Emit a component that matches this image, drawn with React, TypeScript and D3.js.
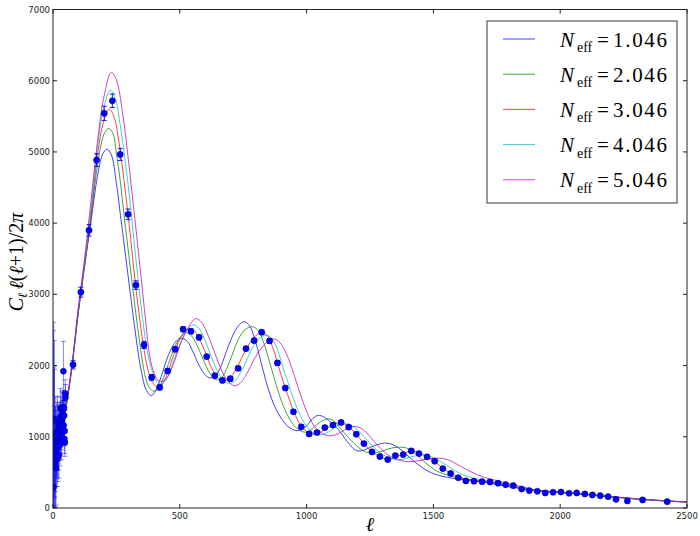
import React from 'react';
import * as d3 from 'd3';

const W = 700, H = 536;
const X0 = 53, X1 = 687, Y0 = 508, Y1 = 9.5;

const xTicks = [0, 500, 1000, 1500, 2000, 2500];
const yTicks = [0, 1000, 2000, 3000, 4000, 5000, 6000, 7000];
const neffLabels = ['1.046', '2.046', '3.046', '4.046', '5.046'];
const neffColors = ['#0000ff', '#008000', '#ff0000', '#00bfbf', '#bf00bf'];

// Model spectra [ell, D_ell]
const neff1: [number, number][] = [[2,1050],[10,820],[20,850],[30,960],[40,1150],[50,1380],[60,1600],[75,1980],[100,2740],[125,3400],[150,4030],[175,4650],[195,4960],[212,5040],[230,4960],[250,4560],[268,4054],[275,3860],[300,3150],[325,2460],[340,2083],[350,1890],[365,1680],[386,1577],[400,1620],[425,1830],[450,2100],[475,2290],[495,2370],[512,2380],[530,2340],[550,2210],[575,2010],[600,1870],[620,1826],[640,1860],[660,1970],[680,2160],[700,2350],[725,2530],[745,2605],[757,2614],[775,2560],[800,2320],[825,1980],[850,1660],[875,1420],[900,1260],[925,1150],[950,1095],[965,1085],[985,1110],[1000,1150],[1025,1260],[1046,1300],[1070,1275],[1100,1190],[1132,1074],[1150,980],[1175,870],[1191,816],[1204,800],[1225,812],[1250,850],[1275,885],[1300,908],[1316,911],[1340,890],[1375,810],[1400,730],[1425,650],[1450,585],[1467,540],[1500,485],[1525,455],[1550,435],[1600,405],[1650,385],[1700,362],[1750,330],[1800,298],[1850,270],[1900,250],[1950,235],[2000,222],[2100,192],[2200,160],[2300,130],[2400,105],[2500,85]];
const neff2: [number, number][] = [[2,1050],[10,820],[20,850],[30,960],[40,1160],[50,1390],[60,1610],[75,1990],[100,2760],[125,3420],[150,4080],[175,4800],[200,5240],[218,5330],[235,5270],[250,4980],[265,4600],[282,4054],[300,3520],[325,2780],[350,2120],[365,1830],[380,1690],[398,1640],[415,1680],[435,1820],[450,1970],[475,2220],[500,2390],[515,2445],[530,2460],[550,2400],[575,2230],[600,2020],[625,1860],[645,1800],[665,1830],[685,1960],[700,2090],[725,2320],[750,2480],[775,2540],[790,2543],[810,2490],[830,2330],[850,2100],[875,1790],[900,1510],[925,1300],[950,1160],[975,1085],[995,1065],[1015,1090],[1040,1170],[1065,1230],[1090,1250],[1110,1215],[1132,1122],[1150,1050],[1175,950],[1200,865],[1225,800],[1257,770],[1280,780],[1310,815],[1340,845],[1375,854],[1400,835],[1425,775],[1450,695],[1475,615],[1506,535],[1525,500],[1550,468],[1600,422],[1650,393],[1700,370],[1750,340],[1800,305],[1850,272],[1900,246],[1950,229],[2000,216],[2100,188],[2200,158],[2300,128],[2400,103],[2500,84]];
const neff3: [number, number][] = [[2,1050],[10,820],[20,850],[30,960],[40,1170],[50,1400],[60,1620],[75,2000],[100,2780],[125,3430],[150,4130],[175,4950],[200,5430],[222,5600],[240,5500],[260,5140],[280,4600],[300,3990],[325,3150],[350,2440],[365,2100],[380,1870],[395,1750],[410,1700],[425,1710],[450,1880],[475,2140],[500,2370],[525,2495],[540,2515],[555,2495],[575,2390],[600,2190],[625,1970],[650,1830],[670,1790],[690,1805],[710,1880],[725,1970],[750,2150],[775,2310],[800,2420],[825,2465],[845,2420],[865,2270],[885,2040],[900,1860],[916,1690],[935,1490],[950,1350],[975,1170],[1000,1075],[1020,1040],[1040,1045],[1060,1075],[1080,1120],[1105,1170],[1130,1200],[1150,1180],[1170,1130],[1196,1040],[1226,905],[1258,790],[1289,720],[1320,685],[1350,710],[1380,760],[1413,800],[1440,780],[1475,715],[1505,650],[1537,560],[1568,490],[1600,435],[1650,395],[1700,375],[1750,350],[1800,315],[1850,270],[1900,242],[1950,226],[2000,215],[2100,190],[2200,155],[2300,125],[2400,100],[2500,82]];
const neff4: [number, number][] = [[2,1050],[10,820],[20,850],[30,960],[40,1175],[50,1410],[60,1630],[75,2010],[100,2800],[125,3450],[150,4200],[175,5060],[200,5620],[226,5865],[245,5760],[265,5380],[285,4860],[300,4420],[325,3560],[350,2760],[375,2140],[400,1840],[420,1745],[440,1770],[460,1910],[480,2110],[500,2300],[525,2480],[553,2572],[575,2525],[600,2350],[625,2120],[650,1910],[675,1785],[695,1750],[715,1780],[735,1870],[760,2050],[785,2240],[810,2370],[843,2426],[865,2370],[885,2220],[905,2000],[925,1780],[950,1520],[975,1300],[1000,1150],[1025,1060],[1050,1030],[1075,1045],[1100,1100],[1125,1165],[1150,1185],[1175,1160],[1200,1100],[1225,1010],[1250,910],[1275,820],[1300,750],[1325,705],[1362,676],[1390,695],[1420,725],[1460,746],[1490,720],[1525,660],[1550,605],[1578,540],[1600,495],[1650,425],[1700,388],[1750,362],[1800,327],[1850,282],[1900,247],[1950,229],[2000,218],[2100,192],[2200,158],[2300,127],[2400,102],[2500,83]];
const neff5: [number, number][] = [[2,1050],[10,820],[20,850],[30,960],[40,1180],[50,1420],[60,1640],[75,2020],[100,2820],[125,3520],[150,4320],[175,5130],[200,5760],[230,6118],[250,6010],[275,5530],[300,4800],[323,4054],[345,3320],[365,2640],[382,2120],[400,1880],[415,1790],[430,1778],[450,1830],[475,2020],[500,2280],[525,2480],[545,2600],[565,2660],[585,2610],[600,2520],[625,2300],[650,2060],[675,1860],[700,1745],[718,1717],[740,1760],[760,1860],[785,2030],[810,2190],[835,2300],[855,2360],[870,2375],[890,2340],[910,2240],[930,2080],[955,1820],[980,1550],[1007,1300],[1030,1150],[1055,1060],[1080,1020],[1100,1015],[1125,1045],[1150,1095],[1183,1145],[1205,1135],[1230,1080],[1255,985],[1280,880],[1305,790],[1330,725],[1360,678],[1390,655],[1414,652],[1440,663],[1470,685],[1500,698],[1526,700],[1555,680],[1580,640],[1610,580],[1650,505],[1700,430],[1750,385],[1800,342],[1850,297],[1900,256],[1950,236],[2000,222],[2100,195],[2200,160],[2300,128],[2400,103],[2500,84]];
const models = [neff1, neff2, neff3, neff4, neff5];

// Low-ell data (ell = 2..49)
const lowEll = [2,3,4,5,6,7,8,9,10,11,12,13,14,15,16,17,18,19,20,21,22,23,24,25,26,27,28,29,30,31,32,33,34,35,36,37,38,39,40,41,42,43,44,45,46,47,48,49];
const lowVal = [290,1010,680,1250,1050,580,720,640,830,1000,560,780,920,850,1070,690,1200,900,720,870,1120,740,980,1110,1190,880,1060,1400,1020,1290,1170,1080,930,1380,1230,1110,1270,1420,1290,1920,1160,1400,1300,970,1080,920,1610,1550];
const lowErr = [2200,1600,1300,1100,900,800,700,650,600,560,520,480,450,430,410,390,370,360,350,340,330,320,310,300,295,290,285,280,275,270,265,260,255,250,245,240,235,230,225,420,220,215,210,205,200,195,190,185];

// Binned high-ell data
const binEll = [79,110,142,172,202,234,265,296,327,359,389,421,452,482,513,544,576,606,638,668,699,730,761,793,823,854,885,916,948,979,1010,1041,1072,1104,1136,1166,1196,1226,1258,1289,1320,1350,1381,1413,1443,1475,1505,1537,1568,1598,1628,1660,1692,1723,1755,1785,1815,1848,1878,1910,1941,1972,2003,2035,2065,2097,2127,2158,2189,2220,2265,2325,2422];
const binVal = [2013,3031,3899,4885,5542,5719,4965,4124,3130,2290,1834,1694,1924,2229,2510,2482,2397,2126,1858,1792,1816,1961,2238,2351,2468,2346,2037,1685,1351,1140,1040,1060,1130,1165,1201,1136,1037,905,788,722,680,736,750,802,764,718,657,553,485,425,380,376,370,366,348,328,314,267,244,235,211,221,225,207,211,197,183,173,159,122,99,113,89];
const binErr = [60,70,80,90,100,95,85,75,60,50,40,35,35,35,35,35,35,30,30,30,30,30,30,30,30,30,30,25,25,25,25,25,25,25,25,25,22,22,20,20,20,20,20,20,20,20,20,18,18,18,16,16,16,16,16,15,15,15,15,15,15,15,15,15,15,15,15,15,15,15,15,15,15];

const SERIF = "'Liberation Serif', 'DejaVu Serif', serif";

export default function App() {
  const x = d3.scaleLinear().domain([0, 2500]).range([X0, X1]);
  const y = d3.scaleLinear().domain([0, 7000]).range([Y0, Y1]);
  const line = d3.line<[number, number]>()
    .x(d => x(d[0])).y(d => y(d[1]))
    .curve(d3.curveCatmullRom.alpha(0.5));

  const legendRows = neffLabels.map((_, i) => 39 + i * 35.2);
  const cap = 2.5;

  return (
    <svg width={W} height={H} style={{ position: 'absolute', left: 0, top: 0, background: '#fff' }}
      xmlns="http://www.w3.org/2000/svg">
      <defs>
        <clipPath id="plot"><rect x={X0} y={Y1} width={X1 - X0} height={Y0 - Y1} /></clipPath>
      </defs>
      <rect x={0} y={0} width={W} height={H} fill="#fff" />

      <g clipPath="url(#plot)">
        {models.map((m, i) => (
          <path key={i} d={line(m) || ''} fill="none" stroke={neffColors[i]} strokeWidth={1} strokeOpacity={0.75} />
        ))}
        {lowEll.map((l, i) => (
          <g key={'le' + i} stroke="#0000ff" strokeWidth={0.8} strokeOpacity={0.6}>
            <line x1={x(l)} x2={x(l)} y1={y(Math.max(0, lowVal[i] - lowErr[i]))} y2={y(lowVal[i] + lowErr[i])} />
            <line x1={x(l) - cap} x2={x(l) + cap} y1={y(lowVal[i] + lowErr[i])} y2={y(lowVal[i] + lowErr[i])} />
            <line x1={x(l) - cap} x2={x(l) + cap} y1={y(Math.max(0, lowVal[i] - lowErr[i]))} y2={y(Math.max(0, lowVal[i] - lowErr[i]))} />
          </g>
        ))}
        {lowEll.map((l, i) => (
          <circle key={'lp' + i} cx={x(l)} cy={y(lowVal[i])} r={3} fill="#0000ff" stroke="#000080" strokeWidth={0.5} />
        ))}
        {binEll.map((l, i) => (
          <g key={'be' + i} stroke="#0000ff" strokeWidth={0.9}>
            <line x1={x(l)} x2={x(l)} y1={y(binVal[i] - binErr[i])} y2={y(binVal[i] + binErr[i])} />
            <line x1={x(l) - cap} x2={x(l) + cap} y1={y(binVal[i] + binErr[i])} y2={y(binVal[i] + binErr[i])} />
            <line x1={x(l) - cap} x2={x(l) + cap} y1={y(binVal[i] - binErr[i])} y2={y(binVal[i] - binErr[i])} />
          </g>
        ))}
        {binEll.map((l, i) => (
          <circle key={'bp' + i} cx={x(l)} cy={y(binVal[i])} r={3.1} fill="#0000ff" stroke="#000080" strokeWidth={0.5} />
        ))}
      </g>

      <rect x={X0} y={Y1} width={X1 - X0} height={Y0 - Y1} fill="none" stroke="#222" strokeWidth={1} />

      {xTicks.map(t => (
        <g key={'xt' + t}>
          <line x1={x(t)} x2={x(t)} y1={Y0} y2={Y0 - 4} stroke="#222" />
          <line x1={x(t)} x2={x(t)} y1={Y1} y2={Y1 + 4} stroke="#222" />
          <text x={x(t)} y={518.5} textAnchor="middle" fontFamily="DejaVu Sans" fontSize={8.5} fill="#222">{t}</text>
        </g>
      ))}
      {yTicks.map(t => (
        <g key={'yt' + t}>
          <line x1={X0} x2={X0 + 4} y1={y(t)} y2={y(t)} stroke="#222" />
          <line x1={X1} x2={X1 - 4} y1={y(t)} y2={y(t)} stroke="#222" />
          <text x={50} y={y(t) + 3} textAnchor="end" fontFamily="DejaVu Sans" fontSize={8.5} fill="#222">{t}</text>
        </g>
      ))}

      <text x={370} y={531} textAnchor="middle" fontFamily={SERIF} fontStyle="italic" fontSize={20}>ℓ</text>
      <text transform="translate(23,262) rotate(-90)" textAnchor="middle" fontFamily={SERIF} fontSize={20}>
        <tspan fontStyle="italic">C</tspan>
        <tspan fontStyle="italic" fontSize={13} dy={4}>ℓ</tspan>
        <tspan fontStyle="italic" dy={-4} dx={3}>ℓ</tspan>
        <tspan>(</tspan><tspan fontStyle="italic">ℓ</tspan><tspan>+1)/2</tspan><tspan fontStyle="italic">π</tspan>
      </text>

      <rect x={487} y={21} width={190} height={182} fill="#fff" stroke="#333" strokeWidth={1} />
      {neffLabels.map((lab, i) => (
        <g key={'lg' + i}>
          <line x1={503} x2={535} y1={legendRows[i]} y2={legendRows[i]} stroke={neffColors[i]} strokeOpacity={0.75} strokeWidth={1} />
          <text x={560} y={legendRows[i] + 7.5} fontFamily={SERIF} fontSize={21} fontStyle="italic">N</text>
          <text x={577} y={legendRows[i] + 13} fontFamily={SERIF} fontSize={14}>eff</text>
          <text x={597} y={legendRows[i] + 7.5} fontFamily={SERIF} fontSize={21}>=</text>
          <text x={613} y={legendRows[i] + 7.5} fontFamily={SERIF} fontSize={21} textLength={54} lengthAdjust="spacing">{lab}</text>
        </g>
      ))}
    </svg>
  );
}
